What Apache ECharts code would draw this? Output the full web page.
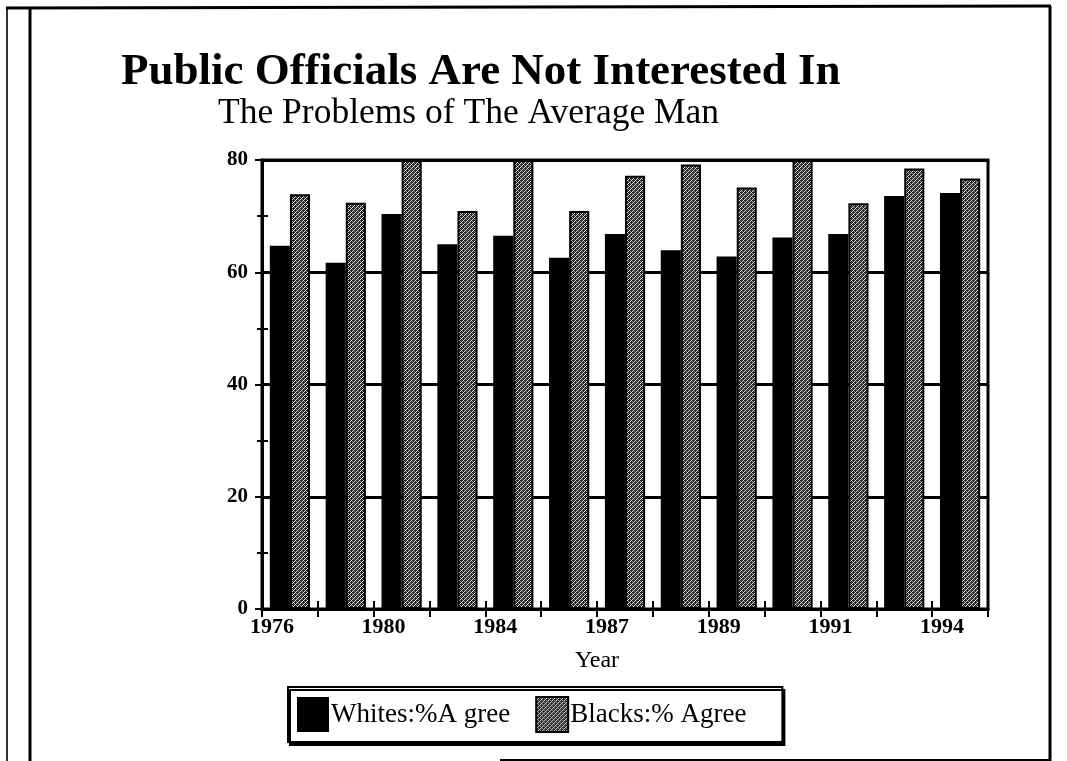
<!DOCTYPE html>
<html>
<head>
<meta charset="utf-8">
<script src="https://cdn.jsdelivr.net/npm/echarts@6/dist/echarts.min.js"></script>
<style>
html,body{margin:0;padding:0;background:#fff;}
#chart{width:1067px;height:761px;}
</style>
</head>
<body>
<div id="chart"></div>
<script>
// ---- data ----
const years = ['1976','1978','1980','1982','1984','1986','1987','1988','1989','1990','1991','1993','1994'];
const whitesAgree = [64.7, 61.7, 70.4, 65.0, 66.5, 62.6, 66.8, 63.9, 62.8, 66.2, 66.8, 73.6, 74.1];
const blacksAgree = [73.9, 72.4, 80.0, 70.9, 80.0, 70.9, 77.2, 79.2, 75.1, 80.0, 72.3, 78.5, 76.7];
const yTicks = [0, 20, 40, 60, 80];
const seriesNames = ['Whites:%A gree', 'Blacks:% Agree'];

// ---- hatch pattern for the second series ----
function makePattern() {
  const c = document.createElement('canvas');
  c.width = 4; c.height = 4;
  const ctx = c.getContext('2d');
  ctx.fillStyle = '#202020';
  ctx.fillRect(0, 0, 4, 4);
  ctx.fillStyle = '#e8e8e8';
  ctx.fillRect(0, 3, 1, 1);
  ctx.fillRect(1, 2, 1, 1);
  ctx.fillRect(2, 1, 1, 1);
  ctx.fillRect(3, 0, 1, 1);
  ctx.fillStyle = '#909090';
  ctx.fillRect(2, 3, 1, 1);
  ctx.fillRect(0, 1, 1, 1);
  return c;
}
const hatch = { image: makePattern(), repeat: 'repeat' };

const serif = '"Liberation Serif", "DejaVu Serif", serif';
const chart = echarts.init(document.getElementById('chart'), null, { renderer: 'canvas' });

const gridL = 262, gridR = 79, gridT = 160, gridB = 152;

chart.setOption({
  backgroundColor: '#ffffff',
  animation: false,
  title: [
    { text: 'Public Officials Are Not Interested In', left: 116, top: 45,
      textStyle: { fontFamily: serif, fontWeight: 'bold', fontSize: 45, color: '#000' } },
    { text: 'The Problems of The Average Man', left: 213, top: 91,
      textStyle: { fontFamily: serif, fontWeight: 'normal', fontSize: 35.5, color: '#000' } }
  ],
  legend: {
    left: 288, top: 687,
    orient: 'horizontal',
    itemWidth: 32, itemHeight: 35, itemGap: 25,
    padding: [9, 36, 9, 9],
    borderColor: '#000', borderWidth: 2,
    backgroundColor: '#fff',
    shadowColor: '#000', shadowBlur: 0, shadowOffsetX: 2, shadowOffsetY: 3,
    textStyle: { fontFamily: serif, fontSize: 27, color: '#000', padding: [0, 0, 0, -3] },
    icon: 'rect',
    data: seriesNames
  },
  grid: {
    left: gridL, right: gridR, top: gridT, bottom: gridB,
    show: true, borderColor: '#000', borderWidth: 3, backgroundColor: 'transparent'
  },
  xAxis: [
    {
      type: 'category', data: years, position: 'bottom',
      axisLine: { show: true, lineStyle: { color: '#000', width: 3 } },
      axisTick: { show: true, length: 8, lineStyle: { color: '#000', width: 2 }, interval: 0 },
      axisLabel: { interval: 1, fontFamily: serif, fontWeight: 'bold', fontSize: 22, color: '#000',
                   margin: 7, padding: [0, 36, 0, 0] },
      name: 'Year', nameLocation: 'middle', nameGap: 40,
      nameTextStyle: { fontFamily: serif, fontSize: 24, color: '#000', padding: [0, 56, 0, 0] }
    },
    {
      type: 'category', data: years, position: 'bottom', gridIndex: 0,
      axisLine: { show: false },
      axisTick: { show: true, inside: true, length: 8, lineStyle: { color: '#000', width: 2 }, interval: 0 },
      axisLabel: { show: false }
    }
  ],
  yAxis: [
    {
      type: 'value', min: 0, max: 80, interval: 20,
      axisLine: { show: true, lineStyle: { color: '#000', width: 3 } },
      axisTick: { show: true, length: 7, lineStyle: { color: '#000', width: 2 } },
      minorTick: { show: true, splitNumber: 2, length: 5, lineStyle: { color: '#000', width: 2 } },
      axisLabel: { fontFamily: serif, fontWeight: 'bold', fontSize: 21, color: '#000', margin: 14,
                   formatter: v => (yTicks.indexOf(v) >= 0 ? String(v) : '') },
      splitLine: { show: true, lineStyle: { color: '#000', width: 3 } }
    },
    {
      type: 'value', min: 0, max: 80, interval: 20, position: 'left',
      axisLine: { show: false },
      axisTick: { show: true, inside: true, length: 6, lineStyle: { color: '#000', width: 2 } },
      minorTick: { show: true, splitNumber: 2, length: 6, lineStyle: { color: '#000', width: 2 } },
      axisLabel: { show: false },
      splitLine: { show: false }
    }
  ],
  series: [
    {
      name: seriesNames[0], type: 'bar', data: whitesAgree,
      xAxisIndex: 0, yAxisIndex: 0,
      barGap: '0%', barCategoryGap: '28%',
      itemStyle: { color: '#000', borderColor: '#000', borderWidth: 0 }
    },
    {
      name: seriesNames[1], type: 'bar', data: blacksAgree,
      xAxisIndex: 0, yAxisIndex: 0,
      barGap: '0%', barCategoryGap: '28%',
      itemStyle: { color: hatch, borderColor: '#000', borderWidth: 2 }
    }
  ],
  graphic: [
    { type: 'line', shape: { x1: 7, y1: 8, x2: 7, y2: 761 }, style: { stroke: '#333', lineWidth: 2 } },
    { type: 'line', shape: { x1: 30, y1: 8, x2: 30, y2: 761 }, style: { stroke: '#000', lineWidth: 3 } },
    { type: 'line', shape: { x1: 6, y1: 8, x2: 1051, y2: 6 }, style: { stroke: '#000', lineWidth: 3 } },
    { type: 'line', shape: { x1: 1050, y1: 6, x2: 1050, y2: 761 }, style: { stroke: '#000', lineWidth: 3 } },
    { type: 'line', shape: { x1: 500, y1: 760, x2: 1050, y2: 760 }, style: { stroke: '#000', lineWidth: 2 } }
  ]
});
</script>
</body>
</html>
